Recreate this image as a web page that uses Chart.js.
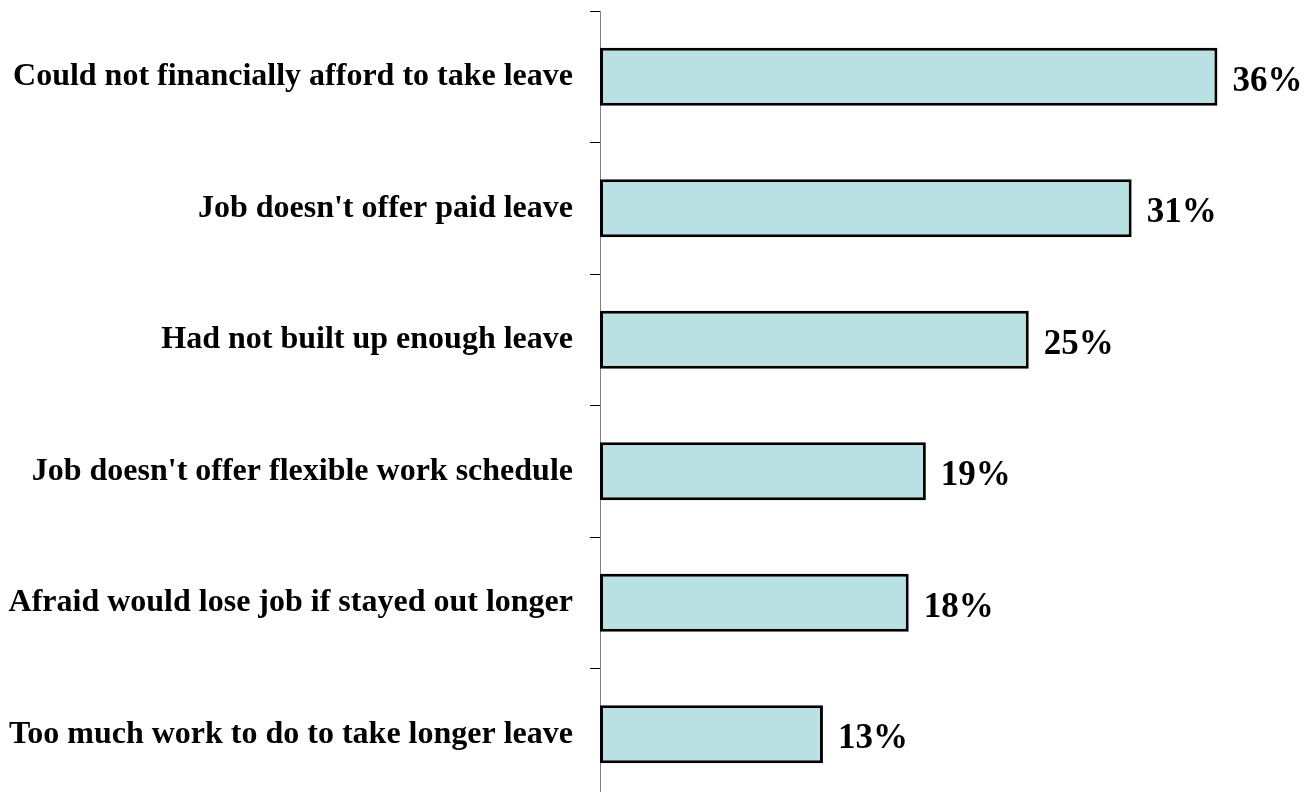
<!DOCTYPE html>
<html>
<head>
<meta charset="utf-8">
<script src="https://cdn.jsdelivr.net/npm/chart.js@4"></script>
<style>
  html, body { margin: 0; padding: 0; background: #fff; overflow: hidden; }
  #wrap { width: 1316px; height: 800px; }
</style>
</head>
<body>
<div id="wrap"><canvas id="reasons"></canvas></div>
<script>
const reasons = [
    'Could not financially afford to take leave',
    "Job doesn't offer paid leave",
    'Had not built up enough leave',
    "Job doesn't offer flexible work schedule",
    'Afraid would lose job if stayed out longer',
    'Too much work to do to take longer leave'
];
const shares = [36, 31, 25, 19, 18, 13];   // percent of respondents

const serif = '"Liberation Serif", "Times New Roman", serif';

// writes the percentage just past the end of each bar
const valueLabels = {
    id: 'valueLabels',
    afterDatasetsDraw(chart) {
        const ctx = chart.ctx;
        const meta = chart.getDatasetMeta(0);
        ctx.save();
        ctx.font = 'bold 35px ' + serif;
        ctx.fillStyle = '#000';
        ctx.textAlign = 'left';
        ctx.textBaseline = 'middle';
        meta.data.forEach((bar, i) => {
            ctx.fillText(shares[i] + '%', bar.x + 15, bar.y + 5);
        });
        ctx.restore();
    }
};

const chart = new Chart(document.getElementById('reasons'), {
    type: 'bar',
    data: {
        labels: reasons,
        datasets: [{
            data: shares,
            backgroundColor: '#B9E0E3',
            borderColor: '#000',
            borderWidth: 3,
            borderSkipped: false,
            barPercentage: 0.44,
            categoryPercentage: 1
        }]
    },
    options: {
        indexAxis: 'y',
        responsive: true,
        maintainAspectRatio: false,
        animation: false,
        layout: { padding: { top: 11, right: 30, bottom: 0, left: 0 } },
        plugins: {
            legend: { display: false },
            tooltip: { enabled: false }
        },
        scales: {
            x: {
                display: false,
                min: 0,
                max: 40
            },
            y: {
                afterFit(scale) {
                    scale.width = 600;
                    scale.paddingTop = 0;
                    scale.paddingBottom = 0;
                },
                grid: {
                    offset: true,
                    drawOnChartArea: false,
                    tickLength: 10,
                    color: '#000',
                    lineWidth: 1
                },
                border: { color: '#808080', width: 1 },
                ticks: {
                    color: '#000',
                    padding: 17,
                    font: { family: serif, size: 32, weight: 'bold' }
                }
            }
        }
    },
    plugins: [valueLabels]
});
</script>
</body>
</html>
